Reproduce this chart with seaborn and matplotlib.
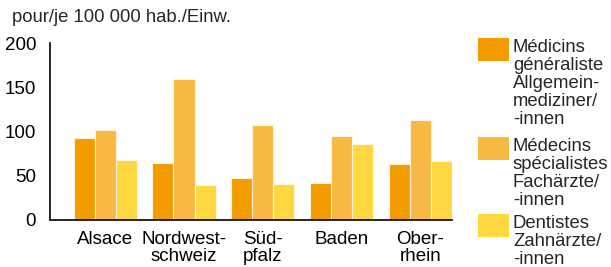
import matplotlib
matplotlib.use("Agg")
import matplotlib.pyplot as plt
from matplotlib.patches import Rectangle
import seaborn as sns
import pandas as pd

regions = ["Alsace", "Nordwest-\nschweiz", "Süd-\npfalz", "Baden", "Ober-\nrhein"]
series = ["Médicins\ngénéraliste\nAllgemein-\nmediziner/\n-innen",
          "Médecins\nspécialistes\nFachärzte/\n-innen",
          "Dentistes\nZahnärzte/\n-innen"]
generalistes = [93, 64, 47, 42, 63]
specialistes = [102, 159, 107, 95, 113]
dentistes = [68, 40, 41, 86, 67]
colors = ["#F39C00", "#F8B944", "#FED741"]
title = "pour/je 100 000 hab./Einw."

sns.set_theme(style="white")
plt.rcParams["font.family"] = ["Liberation Sans", "DejaVu Sans"]

rows = []
for vals, s in zip([generalistes, specialistes, dentistes], series):
    for r, v in zip(regions, vals):
        rows.append({"region": r, "serie": s, "value": v})
df = pd.DataFrame(rows)

fig = plt.figure(figsize=(6.11, 2.67), dpi=100)
ax = fig.add_axes([50/611, 47/267, 402/611, 177/267])
sns.barplot(data=df, x="region", y="value", hue="serie", palette=colors,
            saturation=1, width=0.8, edgecolor="#fff4dc", linewidth=0.8,
            ax=ax, legend=False)
ax.set_xlim(-0.7, 4.4)
ax.set_ylim(0, 200)
ax.set_yticks([0, 50, 100, 150, 200])
ax.set_xlabel("")
ax.set_ylabel("")
for s in ["top", "right"]:
    ax.spines[s].set_visible(False)
for s in ["left", "bottom"]:
    ax.spines[s].set_color("black")
    ax.spines[s].set_linewidth(1.2)
ax.tick_params(axis="y", direction="in", length=9, width=1.2, pad=10,
               labelsize=13.5, colors="black")
ax.tick_params(axis="x", length=0, pad=8, labelsize=13.5, colors="black")
for lab in ax.get_xticklabels():
    lab.set_linespacing(1.0)

fig.text(12/611, 1 - 18/267, title, fontsize=13.3, va="center", ha="left")

# legend
tops = [38, 137, 214]
for top, c, s in zip(tops, colors, series):
    fig.add_artist(Rectangle((478/611, 1 - (top + 23)/267), 31/611, 23/267,
                             transform=fig.transFigure, facecolor=c, edgecolor="none"))
    fig.text(513/611, 1 - (top + 1)/267, s, fontsize=13.3, va="top", ha="left",
             linespacing=1.08)

fig.savefig("out.png", dpi=100)
